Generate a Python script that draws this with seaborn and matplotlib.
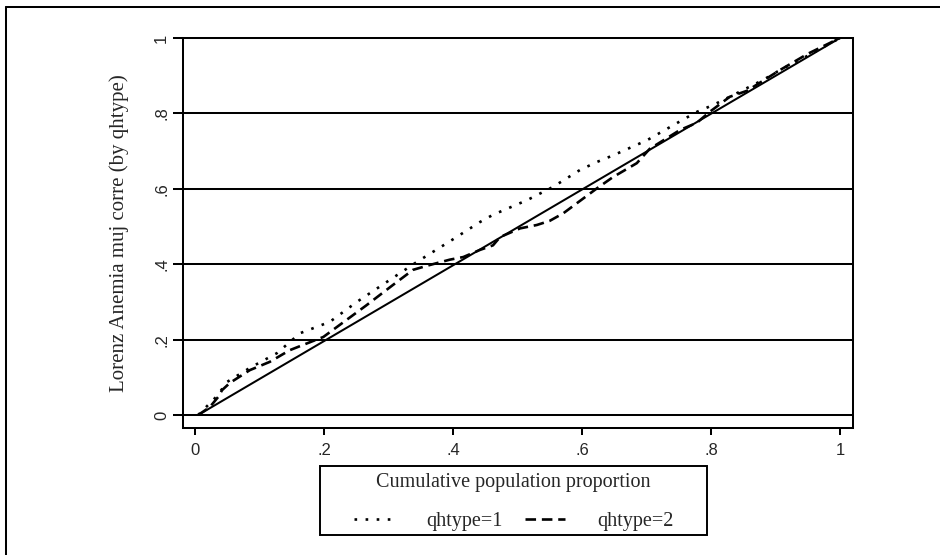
import numpy as np
import pandas as pd
import seaborn as sns
import matplotlib.pyplot as plt
from matplotlib.lines import Line2D
from matplotlib.patches import Rectangle

# Lorenz curves
eq_x = [0.005, 1.0]
eq_y = [0.0, 1.0]

q1_x = [0.005, 0.034, 0.050, 0.085, 0.127, 0.163, 0.209, 0.251, 0.300, 0.344,
        0.400, 0.442, 0.462, 0.515, 0.555, 0.597, 0.623, 0.650, 0.701, 0.750,
        0.778, 0.803, 0.829, 0.881, 0.907, 0.950, 1.0]
q1_y = [0.0, 0.050, 0.088, 0.125, 0.164, 0.217, 0.247, 0.300, 0.356, 0.406,
        0.466, 0.512, 0.531, 0.570, 0.605, 0.650, 0.671, 0.690, 0.729, 0.777,
        0.804, 0.822, 0.844, 0.889, 0.915, 0.953, 1.0]

q2_x = [0.005, 0.023, 0.036, 0.042, 0.054, 0.085, 0.116, 0.147, 0.199, 0.265,
        0.307, 0.338, 0.360, 0.395, 0.416, 0.442, 0.462, 0.473, 0.504, 0.530,
        0.550, 0.571, 0.597, 0.623, 0.648, 0.685, 0.705, 0.752, 0.778, 0.798,
        0.829, 0.856, 0.907, 0.950, 1.0]
q2_y = [0.0, 0.021, 0.048, 0.066, 0.085, 0.119, 0.141, 0.172, 0.207, 0.290,
        0.345, 0.385, 0.396, 0.412, 0.419, 0.438, 0.450, 0.472, 0.495, 0.504,
        0.515, 0.535, 0.568, 0.601, 0.631, 0.668, 0.706, 0.756, 0.775, 0.804,
        0.844, 0.860, 0.915, 0.958, 1.0]

ticks = [0, 0.2, 0.4, 0.6, 0.8, 1.0]
tick_labels = ['0', '.2', '.4', '.6', '.8', '1']

sns.set_style('ticks')
plt.rcParams['font.family'] = ['Liberation Sans', 'DejaVu Sans']

W, H = 940, 555
fig = plt.figure(figsize=(W / 100, H / 100), dpi=100)
ax = fig.add_axes([183 / W, 1 - 428 / H, 670 / W, 390 / H])

lw = 1.45
dot = (0, (1, 3.2))
dash = (0, (4, 2.2))
sns.lineplot(x=eq_x, y=eq_y, ax=ax, color='black', linewidth=lw,
             sort=False, estimator=None)
sns.lineplot(x=q1_x, y=q1_y, ax=ax, color='black', linewidth=1.9,
             sort=False, estimator=None, linestyle=dot)
sns.lineplot(x=q2_x, y=q2_y, ax=ax, color='black', linewidth=1.9,
             sort=False, estimator=None, linestyle=dash)

ax.set_xlim(-0.0186, 1.0202)
ax.set_ylim(-0.0345, 1.0)
ax.set_xticks(ticks)
ax.set_xticklabels(tick_labels, fontsize=12)
ax.set_yticks(ticks)
ax.set_yticklabels(tick_labels, fontsize=12, rotation=90, va='center')
ax.tick_params(axis='x', length=5, width=lw, color='black', pad=6)
ax.tick_params(axis='y', length=7, width=lw, color='black', pad=3)

ax.yaxis.grid(True, color='black', linewidth=lw)
ax.xaxis.grid(False)
for sp in ax.spines.values():
    sp.set_color('black')
    sp.set_linewidth(lw)

ax.set_xlabel('')
ax.set_ylabel('Lorenz Anemia muj corre (by qhtype)', fontsize=15,
              family='Liberation Serif', labelpad=18)

# legend box holding the x-axis title, Stata style
fig.add_artist(Rectangle((320 / W, 1 - 535 / H), 387 / W, 69 / H,
                         transform=fig.transFigure, fill=False,
                         edgecolor='black', linewidth=1.4))
handles = [Line2D([], [], color='black', linewidth=1.9, linestyle=dot),
           Line2D([], [], color='black', linewidth=1.9, linestyle=dash)]
leg = fig.legend(handles, ['qhtype=1', 'qhtype=2'], ncol=2,
                 loc='upper center', bbox_to_anchor=(513.5 / W, 1 - 459 / H),
                 title='Cumulative population proportion',
                 prop={'family': 'Liberation Serif', 'size': 14.5},
                 title_fontproperties={'family': 'Liberation Serif', 'size': 14.5},
                 frameon=False, handlelength=2.0, handletextpad=1.6,
                 columnspacing=1.1, borderpad=0.2, labelspacing=1.0)

# outer frame of the graph region
fig.add_artist(Line2D([6 / W, 6 / W], [0, 1 - 7 / H],
                      transform=fig.transFigure, color='black', linewidth=lw))
fig.add_artist(Line2D([6 / W, 1], [1 - 7 / H, 1 - 7 / H],
                      transform=fig.transFigure, color='black', linewidth=lw))

fig.savefig('out.png', dpi=100)
